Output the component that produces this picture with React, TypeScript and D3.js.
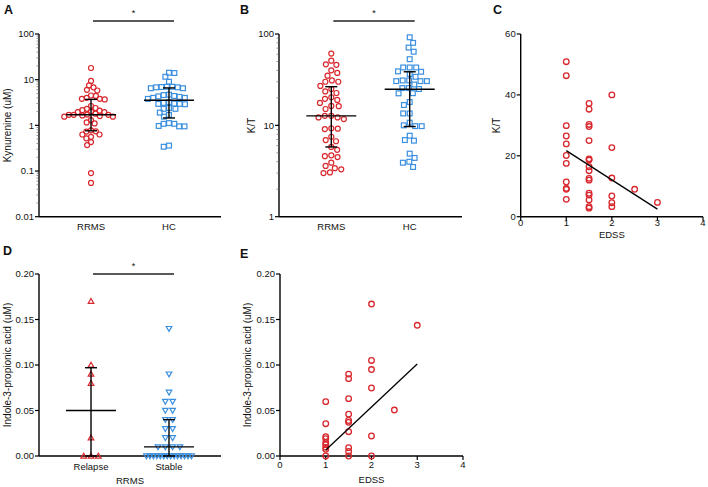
import React from "react";
import * as d3 from "d3";

const RED = "#d8282e";
const BLUE = "#3a8fdf";
const FONT = "'Liberation Sans', Arial, Helvetica, sans-serif";

// ---------- Panel A: Kynurenine ----------
const groupsAB = ["RRMS", "HC"];
const kynRRMS = [18, 9.4, 6.8, 5.8, 6.0, 7.5, 4.4, 3.8, 3.7, 3.8, 4.0, 4.5, 2.65, 2.3, 2.1, 2.15, 2.4, 2.0,
  1.95, 1.7, 1.65, 1.55, 1.7, 1.72, 1.55, 1.6, 1.7, 1.8, 1.95,
  1.16, 1.3, 1.1, 0.78, 0.73, 0.63, 0.52, 0.56, 0.63, 0.74, 0.37, 0.43, 0.09, 0.055];
const kynHC = [14, 14.2, 11.6, 9.0, 7.0, 6.8, 6.5, 6.5, 6.8, 6.9, 7.0,
  4.7, 4.4, 4.2, 4.0, 3.8, 4.0, 4.3, 4.6, 3.1, 3.0, 3.2, 2.95, 2.9, 2.95,
  2.4, 2.3, 2.3, 1.9, 1.7, 1.55, 1.12, 1.08, 0.95, 0.95, 0.97, 1.08, 0.34, 0.36];
const kynMedian = [1.7, 3.55];
const kynLow = [0.76, 1.45];
const kynHigh = [3.7, 6.6];
const kynTicks = [0.01, 0.1, 1, 10, 100];

// ---------- Panel B: K/T ----------
const ktRRMS = [61, 46.6, 46, 51, 35, 37.5, 40, 30, 30, 31, 27, 25, 22.6, 23.5, 20.3, 19, 19.5, 17.6,
  16.3, 15.1, 16.2, 12.7, 12.2, 11.7, 12.2, 12.7, 9.3, 9.1, 9.2, 6.9, 6.7, 7.5, 5.4, 5.8,
  4.7, 4.5, 4.6, 3.9, 3.6, 3.3, 3.0, 3.05, 3.4];
const ktHC = [92, 80, 71, 64, 53, 43, 43, 43, 38.6, 39, 36.5, 34, 30.5, 30.5, 31, 30.5, 31, 28,
  25, 25.6, 25.6, 22.4, 22.5, 18, 16.7, 13.5, 13.5, 10.7, 9.8, 9.8, 10, 7.7, 6.8, 6.9,
  4.9, 4.4, 4.0, 3.5, 3.9];
const ktMedian = [12.7, 24.8];
const ktLow = [5.8, 9.7];
const ktHigh = [26.5, 38.6];
const ktTicks = [1, 10, 100];

// ---------- Panel C: K/T vs EDSS ----------
const edssC = [1, 1, 1, 1, 1, 1, 1, 1, 1, 1, 1,
  1.5, 1.5, 1.5, 1.5, 1.5, 1.5, 1.5, 1.5, 1.5, 1.5, 1.5, 1.5, 1.5, 1.5, 1.5, 1.5,
  2, 2, 2, 2, 2, 2, 2.5, 3];
const ktC = [50.9, 46.3, 29.9, 26.5, 23.9, 20.1, 17.5, 11.4, 9.3, 9.0, 5.7,
  37.2, 35.3, 30.3, 29.6, 25, 19, 18.6, 16.4, 15.1, 12.6, 12.0, 7.7, 7.1, 5.5, 3.3, 2.8,
  40, 22.7, 12.7, 6.8, 4.6, 3.3, 9.0, 4.7];
const fitCSlope = -9.6;
const fitCIntercept = 31.3;
const ticksC = [0, 20, 40, 60];
const edssTicks = [0, 1, 2, 3, 4];

// ---------- Panel D: IPA by relapse ----------
const groupsD = ["Relapse", "Stable"];
const ipaRelapse = [0.17, 0.10, 0.09, 0.08, 0.02, 0, 0, 0];
const ipaStable = [0.14, 0.09, 0.07, 0.06, 0.06, 0.05, 0.05, 0.04, 0.04, 0.03, 0.03, 0.02, 0.02,
  0.01, 0.01, 0.01, 0.01, 0, 0, 0, 0, 0, 0, 0, 0, 0, 0, 0, 0, 0, 0];
const ipaMedian = [0.05, 0.01];
const ipaLow = [0, 0];
const ipaHigh = [0.097, 0.04];
const ipaTicks = [0, 0.05, 0.1, 0.15, 0.2];

// ---------- Panel E: IPA vs EDSS ----------
const edssE = [1, 1, 1, 1, 1, 1, 1, 1, 1,
  1.5, 1.5, 1.5, 1.5, 1.5, 1.5, 1.5, 1.5, 1.5, 1.5,
  2, 2, 2, 2, 2, 2, 2.5, 3];
const ipaE = [0.0597, 0.0355, 0.0212, 0.019, 0.0147, 0.0125, 0.0095, 0.0073, 0,
  0.090, 0.085, 0.063, 0.046, 0.039, 0.037, 0.0267, 0.0092, 0.005, 0,
  0.167, 0.105, 0.095, 0.0747, 0.022, 0, 0.0505, 0.1436];
const fitESlope = 0.0472;
const fitEIntercept = -0.0406;

type Box = { left: number; right: number; top: number; bottom: number };

function swarm(ys: number[], cx: number, diam: number): number[] {
  const idx = ys.map((_, i) => i).sort((a, b) => ys[a] - ys[b]);
  const placed: { x: number; y: number }[] = [];
  const xs: number[] = new Array(ys.length);
  let flip = 1;
  for (const i of idx) {
    const y = ys[i];
    const iv: [number, number][] = [];
    for (const p of placed) {
      const dy = Math.abs(p.y - y);
      if (dy < diam) {
        const dx = Math.sqrt(diam * diam - dy * dy);
        iv.push([p.x - dx, p.x + dx]);
      }
    }
    const cands = [cx, ...iv.flatMap((v) => v)];
    cands.sort((a, b) => {
      const d = Math.abs(a - cx) - Math.abs(b - cx);
      if (Math.abs(d) > 1e-6) return d;
      return flip * (a - b);
    });
    let chosen = cx;
    for (const c of cands) {
      if (iv.every(([a, b]) => c <= a + 1e-6 || c >= b - 1e-6)) {
        chosen = c;
        break;
      }
    }
    flip = -flip;
    xs[i] = chosen;
    placed.push({ x: chosen, y });
  }
  return xs;
}

function rows(vals: number[], cx: number, maxSpace: number, maxWidth: number): number[] {
  const counts = new Map<number, number>();
  vals.forEach((v) => counts.set(v, (counts.get(v) || 0) + 1));
  const seen = new Map<number, number>();
  return vals.map((v) => {
    const n = counts.get(v)!;
    const j = seen.get(v) || 0;
    seen.set(v, j + 1);
    const s = n > 1 ? Math.min(maxSpace, maxWidth / (n - 1)) : 0;
    return cx + (j - (n - 1) / 2) * s;
  });
}

const txt = { fontFamily: FONT, fill: "#111" } as const;

function YAxis({ box, y, ticks, fmt, minor }: { box: Box; y: any; ticks: number[]; fmt: (v: number) => string; minor?: number[] }) {
  return (
    <g>
      <line x1={box.left} x2={box.left} y1={box.top} y2={box.bottom} stroke="#000" strokeWidth={1.4} />
      {(minor || []).map((m, i) => (
        <line key={"m" + i} x1={box.left - 2.5} x2={box.left} y1={y(m)} y2={y(m)} stroke="#666" strokeWidth={0.7} />
      ))}
      {ticks.map((t, i) => (
        <g key={i}>
          <line x1={box.left - 4} x2={box.left} y1={y(t)} y2={y(t)} stroke="#000" strokeWidth={1.2} />
          <text x={box.left - 5} y={y(t)} dy="0.35em" textAnchor="end" fontSize={9.5} style={txt}>{fmt(t)}</text>
        </g>
      ))}
    </g>
  );
}

function logMinor(lo: number, hi: number): number[] {
  const out: number[] = [];
  for (let d = lo; d < hi; d *= 10) for (let k = 2; k <= 9; k++) out.push(d * k);
  return out;
}

function SigBar({ x1, x2, y, sy }: { x1: number; x2: number; y: number; sy: number }) {
  return (
    <g>
      <line x1={x1} x2={x2} y1={y} y2={y} stroke="#222" strokeWidth={1.3} />
      <text x={(x1 + x2) / 2} y={sy} textAnchor="middle" fontSize={9} style={txt}>*</text>
    </g>
  );
}

function Letter({ x, y, t }: { x: number; y: number; t: string }) {
  return <text x={x} y={y} fontSize={12.5} fontWeight="bold" style={txt}>{t}</text>;
}

function YTitle({ x, cy, t }: { x: number; cy: number; t: string }) {
  return (
    <text transform={`translate(${x},${cy}) rotate(-90)`} textAnchor="middle" fontSize={10} style={txt}>{t}</text>
  );
}

function ErrBars({ xs, y, med, lo, hi }: { xs: number[]; y: any; med: number[]; lo: number[]; hi: number[] }) {
  return (
    <g stroke="#000" strokeWidth={1.4}>
      {xs.map((cx, i) => (
        <g key={i}>
          <line x1={cx} x2={cx} y1={y(lo[i])} y2={y(hi[i])} />
          <line x1={cx - 6} x2={cx + 6} y1={y(lo[i])} y2={y(lo[i])} />
          <line x1={cx - 6} x2={cx + 6} y1={y(hi[i])} y2={y(hi[i])} />
          <line x1={cx - 25} x2={cx + 25} y1={y(med[i])} y2={y(med[i])} />
        </g>
      ))}
    </g>
  );
}

function CatPanel({ box, groups, series, yScale, ticks, fmt, minor, med, lo, hi, shapes, diam, title, titleX, letter, letterPos, sig, catY, layout }: any) {
  const x = d3.scalePoint<string>().domain(groups).range([box.left, box.right]).padding(0.667);
  const centers = groups.map((g: string) => x(g)!);
  return (
    <g>
      <Letter x={letterPos[0]} y={letterPos[1]} t={letter} />
      <YAxis box={box} y={yScale} ticks={ticks} fmt={fmt} minor={minor} />
      <line x1={box.left} x2={box.right} y1={box.bottom} y2={box.bottom} stroke="#000" strokeWidth={1.4} />
      {groups.map((g: string, i: number) => (
        <text key={g} x={centers[i]} y={catY} textAnchor="middle" fontSize={9.5} style={txt}>{g}</text>
      ))}
      <YTitle x={titleX} cy={(box.top + box.bottom) / 2} t={title} />
      {series.map((vals: number[], gi: number) => {
        const ys = vals.map((v) => yScale(v));
        const xs = layout === "rows" ? rows(vals, centers[gi], 7.3, 45) : swarm(ys, centers[gi], diam[gi]);
        const sh = shapes[gi];
        const color = sh.color;
        return (
          <g key={gi} fill="none" stroke={color} strokeWidth={1.2}>
            {vals.map((v, i) => {
              const px = xs[i], py = ys[i];
              if (sh.type === "circle") return <circle key={i} cx={px} cy={py} r={2.5} />;
              if (sh.type === "square") return <rect key={i} x={px - 2.4} y={py - 2.4} width={4.8} height={4.8} />;
              const s = 2.8;
              if (sh.type === "up")
                return <path key={i} d={`M${px},${py - s}L${px + s},${py + s * 0.75}L${px - s},${py + s * 0.75}Z`} />;
              return <path key={i} d={`M${px},${py + s}L${px + s},${py - s * 0.75}L${px - s},${py - s * 0.75}Z`} />;
            })}
          </g>
        );
      })}
      <ErrBars xs={centers} y={yScale} med={med} lo={lo} hi={hi} />
      <SigBar x1={centers[0] + 2} x2={centers[1] + 5} y={sig[0]} sy={sig[1]} />
    </g>
  );
}

function ScatterPanel({ box, xs, ys, yDomain, yTicks, fmt, slope, intercept, title, titleX, letter, letterPos, tickLabelY, xTitleY }: any) {
  const x = d3.scaleLinear().domain([0, 4]).range([box.left, box.right]);
  const y = d3.scaleLinear().domain(yDomain).range([box.bottom, box.top]);
  const x0 = d3.min(xs as number[])!, x1 = d3.max(xs as number[])!;
  return (
    <g>
      <Letter x={letterPos[0]} y={letterPos[1]} t={letter} />
      <YAxis box={box} y={y} ticks={yTicks} fmt={fmt} />
      <line x1={box.left} x2={box.right} y1={box.bottom} y2={box.bottom} stroke="#000" strokeWidth={1.4} />
      {edssTicks.map((t) => (
        <g key={t}>
          <line x1={x(t)} x2={x(t)} y1={box.bottom} y2={box.bottom + 4} stroke="#000" strokeWidth={1.2} />
          <text x={x(t)} y={tickLabelY} textAnchor="middle" fontSize={9.5} style={txt}>{t}</text>
        </g>
      ))}
      <text x={(box.left + box.right) / 2} y={xTitleY} textAnchor="middle" fontSize={9.5} style={txt}>EDSS</text>
      <YTitle x={titleX} cy={(box.top + box.bottom) / 2} t={title} />
      <g fill="none" stroke={RED} strokeWidth={1.3}>
        {(xs as number[]).map((v, i) => (
          <circle key={i} cx={x(v)} cy={y(ys[i])} r={2.8} />
        ))}
      </g>
      <line x1={x(x0)} x2={x(x1)} y1={y(slope * x0 + intercept)} y2={y(slope * x1 + intercept)} stroke="#000" strokeWidth={1.3} />
    </g>
  );
}

export default function App() {
  const boxA: Box = { left: 39, right: 221, top: 34, bottom: 216.7 };
  const boxB: Box = { left: 279, right: 462, top: 34, bottom: 216.7 };
  const boxC: Box = { left: 520.7, right: 703, top: 34, bottom: 216.7 };
  const boxD: Box = { left: 39, right: 221, top: 274, bottom: 456 };
  const boxE: Box = { left: 280, right: 463, top: 274, bottom: 456 };

  const yA = d3.scaleLog().domain([0.01, 100]).range([boxA.bottom, boxA.top]);
  const yB = d3.scaleLog().domain([1, 100]).range([boxB.bottom, boxB.top]);
  const yD = d3.scaleLinear().domain([0, 0.2]).range([boxD.bottom, boxD.top]);
  const fmtLog = (v: number) => String(v);
  const fmt2 = d3.format(".2f");

  return (
    <svg width={708} height={487} style={{ position: "absolute", left: 0, top: 0, background: "#fff" }}>
      <rect width={708} height={487} fill="#fff" />
      <CatPanel box={boxA} groups={groupsAB} series={[kynRRMS, kynHC]} yScale={yA} ticks={kynTicks} fmt={fmtLog}
        minor={logMinor(0.01, 100)} med={kynMedian} lo={kynLow} hi={kynHigh}
        shapes={[{ type: "circle", color: RED }, { type: "square", color: BLUE }]} diam={[4.9, 5.4]}
        title="Kynurenine (uM)" titleX={11} letter="A" letterPos={[4, 14]} sig={[21, 16]} catY={230} />
      <CatPanel box={boxB} groups={groupsAB} series={[ktRRMS, ktHC]} yScale={yB} ticks={ktTicks} fmt={fmtLog}
        minor={logMinor(1, 100)} med={ktMedian} lo={ktLow} hi={ktHigh}
        shapes={[{ type: "circle", color: RED }, { type: "square", color: BLUE }]} diam={[6.5, 6.5]}
        title="K/T" titleX={254.5} letter="B" letterPos={[240, 14]} sig={[21, 16]} catY={230} />
      <ScatterPanel box={boxC} xs={edssC} ys={ktC} yDomain={[0, 60]} yTicks={ticksC} fmt={(v: number) => String(v)}
        slope={fitCSlope} intercept={fitCIntercept} title="K/T" titleX={500} letter="C" letterPos={[493, 14]}
        tickLabelY={225.5} xTitleY={237.5} />
      <CatPanel box={boxD} groups={groupsD} series={[ipaRelapse, ipaStable]} yScale={yD} ticks={ipaTicks} fmt={fmt2}
        med={ipaMedian} lo={ipaLow} hi={ipaHigh}
        shapes={[{ type: "up", color: RED }, { type: "down", color: BLUE }]} diam={[6, 6]} layout="rows"
        title="Indole-3-propionic acid (uM)" titleX={11} letter="D" letterPos={[3, 255]} sig={[274, 269]} catY={469.5} />
      <text x={130} y={484} textAnchor="middle" fontSize={9.5} style={txt}>RRMS</text>
      <ScatterPanel box={boxE} xs={edssE} ys={ipaE} yDomain={[0, 0.2]} yTicks={ipaTicks} fmt={fmt2}
        slope={fitESlope} intercept={fitEIntercept} title="Indole-3-propionic acid (uM)" titleX={251}
        letter="E" letterPos={[240, 258]} tickLabelY={467.5} xTitleY={483} />
    </svg>
  );
}
